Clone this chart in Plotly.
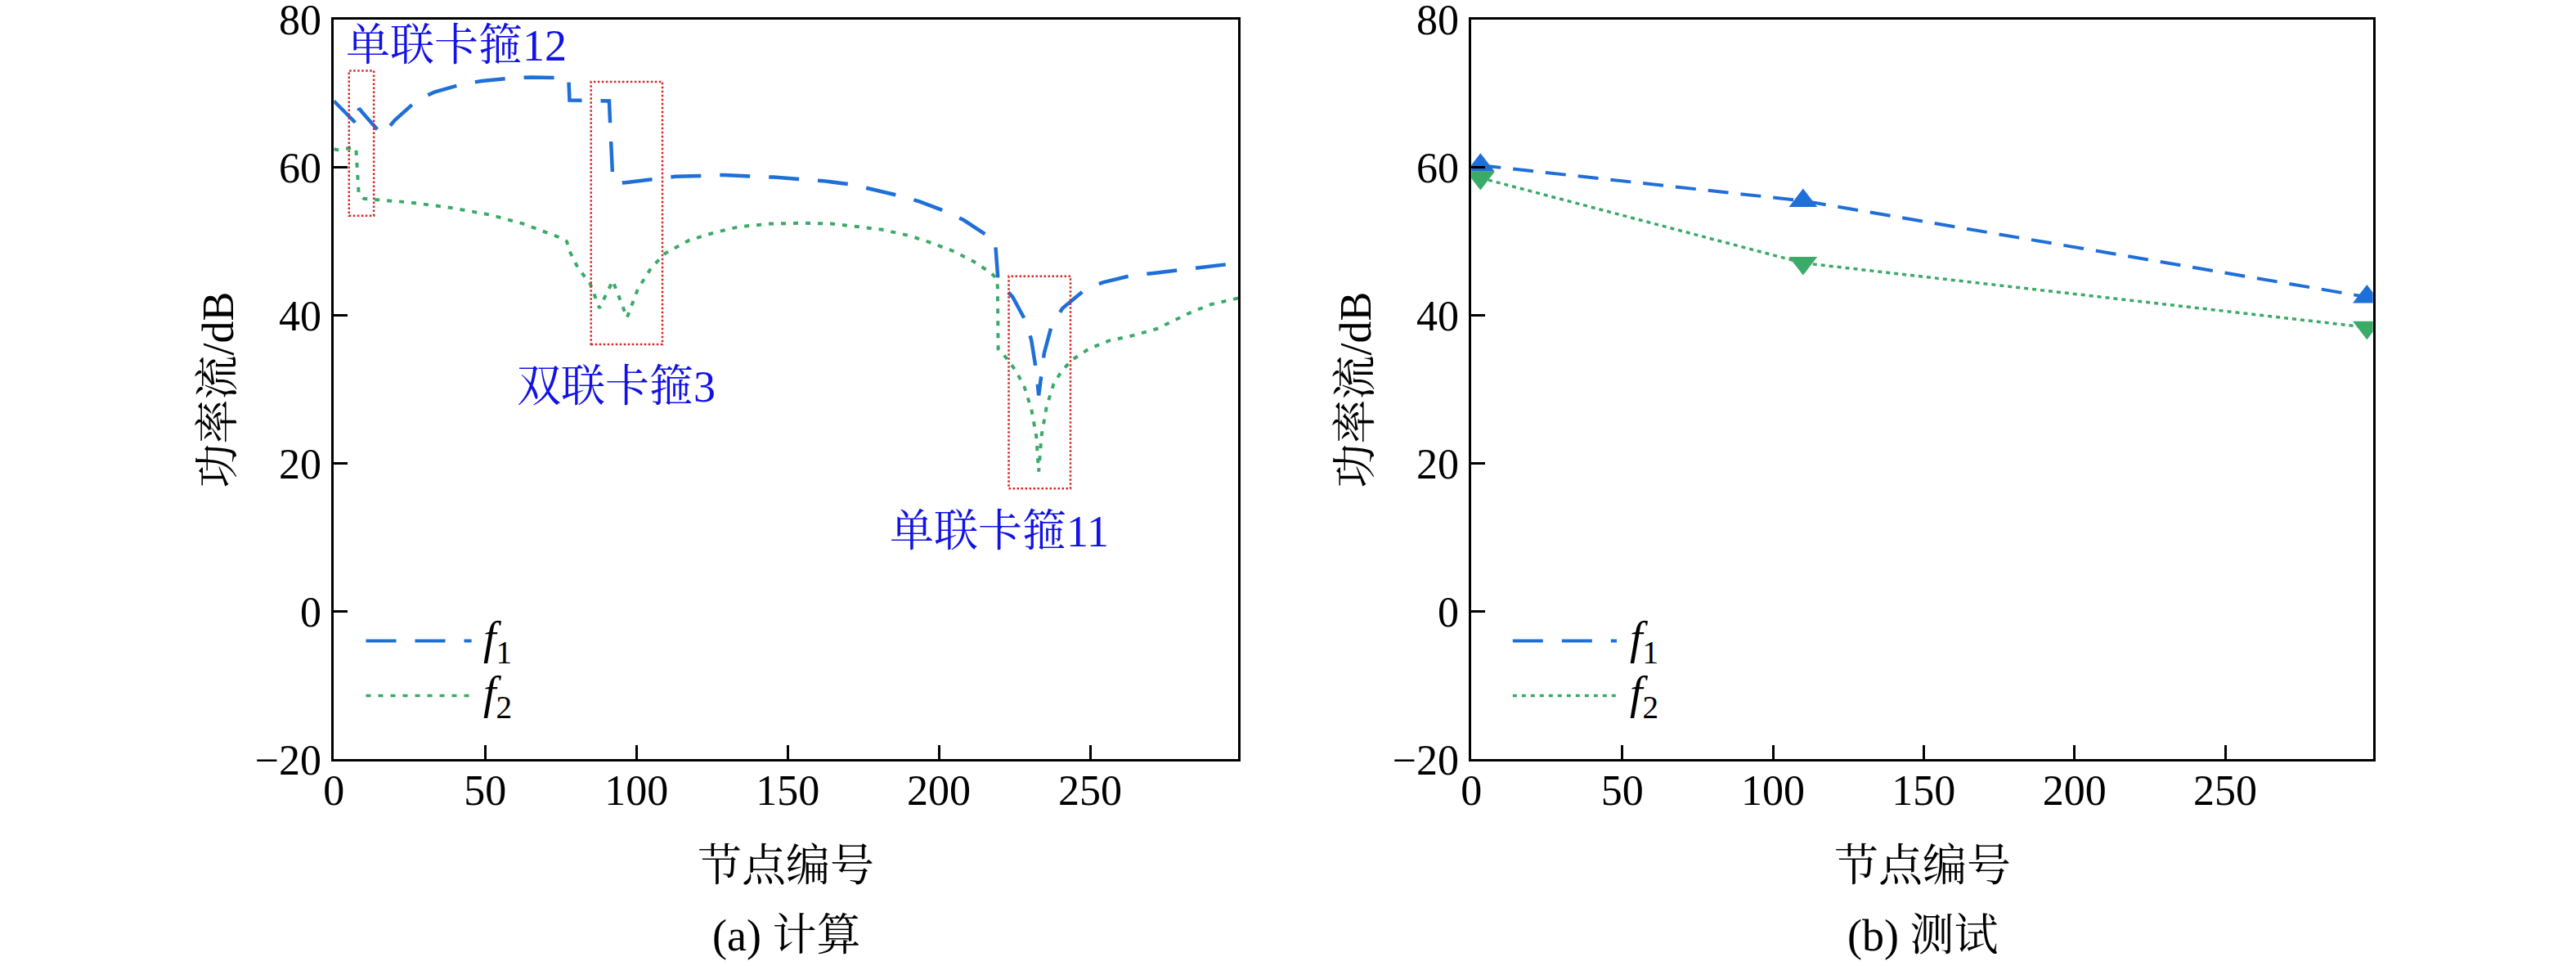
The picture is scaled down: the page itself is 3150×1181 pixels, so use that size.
import plotly.graph_objects as go

# (a) 计算: calculated power flow along the pipeline nodes
calc_f1_node = [0, 1.2, 8.0, 8.3, 9.3, 15.3, 16.3, 20.1, 27.5, 33.2, 42.6, 48.9, 58.8, 65.1,
                75.1, 77.6, 77.9, 84.7, 91.0, 92.2, 94.5, 96.9, 106.3, 112.9, 122.8, 129.1,
                138.7, 145.4, 154.9, 161.7, 171.2, 177.9, 186.9, 193.6, 202.0, 208.2, 216.2,
                218.6, 219.6, 224.4, 228.9, 230.6, 232.2, 233.0, 234.8, 237.3, 240.9, 248.3,
                254.4, 263.6, 270.4, 279.9, 286.6, 295.9, 299]
calc_f1_db = [69.0, 68.5, 65.7, 68.0, 67.5, 64.7, 64.5, 66.4, 69.1, 70.2, 71.3, 71.7, 72.1, 72.2,
              72.2, 72.1, 69.1, 69.1, 69.0, 58.2, 57.9, 58.0, 58.4, 58.8, 58.9, 59.0,
              58.8, 58.7, 58.4, 58.2, 57.7, 57.1, 56.2, 55.4, 54.1, 52.9, 50.8,
              50.1, 44.6, 42.5, 39.1, 36.6, 32.5, 29.2, 34.9, 38.7, 41.0, 43.5,
              44.5, 45.4, 45.7, 46.2, 46.5, 47.0, 47.1]

calc_f2_node = [0, 1.2, 6.8, 7.3, 8.2, 9.9, 24.8, 38.3, 51.8, 62.6, 74.3, 77.0, 77.9, 80.6,
                84.7, 87.8, 92.2, 96.9, 100.5, 105.0, 109.5, 117.6, 125.7, 132.9, 136.5,
                144.3, 155.5, 164.5, 173.4, 181.3, 190.2, 196.9, 204.8, 211.5, 217.1, 219.1,
                219.4, 219.6, 222.2, 225.5, 228.3, 230.6, 232.2, 233.0, 233.9, 235.6, 237.9,
                240.6, 244.0, 249.6, 256.3, 264.2, 272.0, 276.5, 283.2, 290.0, 298.4, 299]
calc_f2_db = [62.5, 62.4, 62.7, 62.6, 56.5, 55.8, 55.3, 54.6, 53.6, 52.4, 50.6, 50.0, 48.7, 46.5,
              44.3, 41.0, 44.7, 39.7, 43.6, 46.5, 48.4, 50.2, 51.2, 51.9, 52.1,
              52.4, 52.5, 52.4, 52.0, 51.6, 50.8, 49.9, 48.7, 47.3, 45.8, 45.0,
              43.9, 35.5, 34.3, 32.5, 30.3, 27.3, 23.7, 18.9, 23.7, 27.7, 30.7,
              32.5, 34.0, 35.5, 36.6, 37.3, 38.2, 39.1, 40.4, 41.5, 42.3, 42.35]

# (b) 测试: measured at three nodes
test_node = [3, 110, 297]
test_f1_db = [60.3, 55.5, 42.5]
test_f2_db = [58.6, 47.1, 38.4]

x_ticks = [0, 50, 100, 150, 200, 250]
y_ticks = [-20, 0, 20, 40, 60, 80]

# clamp regions marked on the calculated curve: label, node range, dB range
clamp_labels = ["单联卡箍12", "双联卡箍3", "单联卡箍11"]
clamp_node_ranges = [(5.0, 13.2), (85.0, 108.6), (223.1, 243.5)]
clamp_db_ranges = [(53.5, 73.1), (36.1, 71.6), (16.6, 45.3)]

W, H = 3150, 1181
BLUE = "#1f6fd8"
GREEN = "#3aaa68"
LABEL_BLUE = "#1212e6"
RED = "#d42a2a"
FONT = "Liberation Serif, Noto Serif CJK SC, Noto Sans CJK SC"


def px(xp):
    return xp / W


def py(yp):
    return 1 - yp / H


fig = go.Figure()

fig.add_trace(go.Scatter(x=calc_f1_node, y=calc_f1_db, mode="lines", xaxis="x", yaxis="y",
                         line=dict(color=BLUE, width=4.5, dash="37px,23px")))
fig.add_trace(go.Scatter(x=calc_f2_node, y=calc_f2_db, mode="lines", xaxis="x", yaxis="y",
                         line=dict(color=GREEN, width=4, dash="6px,9px")))
fig.add_trace(go.Scatter(x=test_node, y=test_f1_db, mode="lines+markers", xaxis="x2", yaxis="y2",
                         line=dict(color=BLUE, width=4, dash="25px,15px"),
                         marker=dict(symbol="triangle-up", size=30, color=BLUE)))
fig.add_trace(go.Scatter(x=test_node, y=test_f2_db, mode="lines+markers", xaxis="x2", yaxis="y2",
                         line=dict(color=GREEN, width=3.5, dash="5px,5px"),
                         marker=dict(symbol="triangle-down", size=30, color=GREEN)))

axis_style = dict(showline=True, linecolor="black", linewidth=3, mirror=True,
                  ticks="inside", ticklen=17, tickwidth=3, tickcolor="black",
                  showgrid=False, zeroline=False, automargin=False,
                  ticklabeloverflow="allow",
                  tickfont=dict(family=FONT, size=52, color="black"))

ydom = [py(928.3), py(24)]
fig.update_layout(
    template="none",
    width=W, height=H,
    margin=dict(l=0, r=0, t=0, b=0, pad=0),
    paper_bgcolor="white", plot_bgcolor="white",
    showlegend=False,
    xaxis=dict(domain=[px(408.3), px(1514.3)], range=[0, 299], tickvals=x_ticks,
               anchor="y", ticklabelstandoff=-10, **axis_style),
    yaxis=dict(domain=ydom, range=[-20, 80], tickvals=y_ticks, anchor="x",
               ticklabelstandoff=2, **axis_style),
    xaxis2=dict(domain=[px(1799.3), px(2901.7)], range=[0, 299], tickvals=x_ticks,
                anchor="y2", ticklabelstandoff=-10, **axis_style),
    yaxis2=dict(domain=ydom, range=[-20, 80], tickvals=y_ticks, anchor="x2",
                ticklabelstandoff=2, **axis_style),
)

shapes = []
annotations = []

# red dotted boxes around the clamps
for (x0, x1), (y0, y1) in zip(clamp_node_ranges, clamp_db_ranges):
    shapes.append(dict(type="rect", xref="x", yref="y", x0=x0, x1=x1, y0=y0, y1=y1,
                       line=dict(color=RED, width=2.5, dash="2.5px,2.5px")))

label_pos = [(3.3, 76.5, "left"), (93.3, 30.3, "center"), (220.0, 10.8, "center")]
for text, (lx, ly, anchor) in zip(clamp_labels, label_pos):
    annotations.append(dict(text=text, x=lx, y=ly, xref="x", yref="y", xanchor=anchor,
                            yanchor="middle", showarrow=False,
                            font=dict(family=FONT, size=54, color=LABEL_BLUE)))

# hand-drawn legends (long line samples as in the original)
legend_specs = [("x", "y", 10.6, 45.5, 48.8, "37px,23px", "6px,9px"),
                ("x2", "y2", 13.7, 48.2, 52.0, "37px,23px", "5px,6px")]
for xr, yr, lx0, lx1, tx, dash1, dash2 in legend_specs:
    shapes.append(dict(type="line", xref=xr, yref=yr, x0=lx0, x1=lx1, y0=-4.0, y1=-4.0,
                       line=dict(color=BLUE, width=4, dash=dash1)))
    shapes.append(dict(type="line", xref=xr, yref=yr, x0=lx0, x1=lx1, y0=-11.4, y1=-11.4,
                       line=dict(color=GREEN, width=3.5, dash=dash2)))
    annotations.append(dict(text="<i>f</i><sub>1</sub>", x=tx, y=-4.0, xref=xr, yref=yr,
                            xanchor="left", yanchor="middle", showarrow=False,
                            font=dict(family=FONT, size=56, color="black")))
    annotations.append(dict(text="<i>f</i><sub>2</sub>", x=tx, y=-11.4, xref=xr, yref=yr,
                            xanchor="left", yanchor="middle", showarrow=False,
                            font=dict(family=FONT, size=56, color="black")))

# axis titles and sub-captions
title_font = dict(family=FONT, size=54, color="black")
for cx, ytx, cap in [(961.3, 266.7, "(a) 计算"), (2350.5, 1657.7, "(b) 测试")]:
    annotations.append(dict(text="功率流/dB", x=px(ytx), y=py(476.7), xref="paper", yref="paper",
                            xanchor="center", yanchor="middle",
                            textangle=-90, showarrow=False, font=title_font))
    annotations.append(dict(text="节点编号", x=px(cx), y=py(1059), xref="paper", yref="paper",
                            xanchor="center", yanchor="middle",
                            showarrow=False, font=title_font))
    annotations.append(dict(text=cap, x=px(cx), y=py(1144), xref="paper", yref="paper",
                            xanchor="center", yanchor="middle",
                            showarrow=False, font=title_font))

fig.update_layout(shapes=shapes, annotations=annotations)

# drop the browser's default body margin so the figure sits at the window corner
fig.write_html("out.html", config={"displayModeBar": False},
               post_script="document.body.style.margin = '0';")
